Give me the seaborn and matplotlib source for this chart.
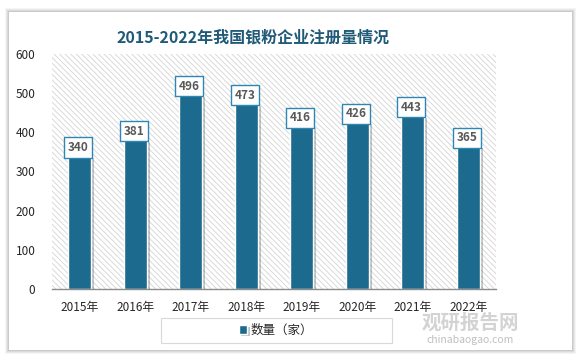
import matplotlib
matplotlib.use("Agg")
import matplotlib.pyplot as plt
import matplotlib.patheffects as pe
from matplotlib.patches import Rectangle
import seaborn as sns
import pandas as pd

years = ["2015年", "2016年", "2017年", "2018年", "2019年", "2020年", "2021年", "2022年"]
counts = [340, 381, 496, 473, 416, 426, 443, 365]
series_name = "数量（家）"
title = "2015-2022年我国银粉企业注册量情况"

BAR_COLOR = "#1C6B8E"
TITLE_COLOR = "#1F5A78"

sns.set_style("white")
plt.rcParams['font.family'] = ['Noto Sans CJK SC', 'DejaVu Sans']
plt.rcParams['hatch.color'] = '#D4D4D4'
plt.rcParams['hatch.linewidth'] = 0.6

df = pd.DataFrame({"year": years, "count": counts, "series": series_name})

W, H = 584, 362
fig = plt.figure(figsize=(W / 100, H / 100), dpi=100)
fig.patch.set_facecolor("white")

# card with soft shadow
for i, a in enumerate([0.04, 0.05, 0.06, 0.07]):
    d = 4 - i
    fig.patches.append(Rectangle(((9 - d) / W, (12 - d) / H), (563 + 2 * d) / W, (338 + 2 * d) / H,
                                 transform=fig.transFigure, facecolor="black", alpha=a,
                                 edgecolor="none", zorder=0))
fig.patches.append(Rectangle((9 / W, 12 / H), 563 / W, 338 / H, transform=fig.transFigure,
                             facecolor="white", edgecolor="none", zorder=1))
# legend frame (entry is centred inside it below)
fig.patches.append(Rectangle((161 / W, 1 - 343 / H), 231 / W, 25 / H, transform=fig.transFigure,
                             facecolor="white", edgecolor="#D9D9D9", linewidth=0.8, zorder=1.5))

ax = fig.add_axes([52 / W, 1 - 289 / H, 444 / W, 235 / H])
ax.set_zorder(2)
ax.patch.set_facecolor("white")
ax.patch.set_hatch("\\\\\\\\\\\\")
ax.patch.set_edgecolor("#D4D4D4")
ax.patch.set_linewidth(0)

sns.barplot(data=df, x="year", y="count", hue="series", palette=[BAR_COLOR], width=0.42,
            saturation=1, edgecolor="white", linewidth=1.0, ax=ax)

shadow = [pe.SimplePatchShadow(offset=(2, -1.5), alpha=0.25), pe.Normal()]
for bar in ax.patches:
    bar.set_path_effects(shadow)

for i, v in enumerate(counts):
    ax.annotate(str(v), (i, v), xytext=(-1, 6), textcoords="offset points", ha="center", va="center",
                fontsize=8.5, fontweight="bold", color="#595959",
                bbox=dict(boxstyle="square,pad=0.3", facecolor="white", edgecolor="#2E86B5", linewidth=1.0))

ax.set_ylim(0, 600)
ax.set_yticks(range(0, 601, 100))
ax.set_xlim(-0.5, len(years) - 0.5)
ax.set_xlabel("")
ax.set_ylabel("")
for s in ["top", "right", "left"]:
    ax.spines[s].set_visible(False)
ax.spines["bottom"].set_color("#8C8C8C")
ax.spines["bottom"].set_linewidth(1.0)
ax.tick_params(axis="y", length=0, pad=12, labelsize=8.5, labelcolor="#262626")
ax.tick_params(axis="x", length=0, pad=9, labelsize=8.5, labelcolor="#262626")

leg = ax.legend(loc="center", bbox_to_anchor=(276 / W, 1 - 330 / H), bbox_transform=fig.transFigure,
                frameon=False, fontsize=9, handlelength=0.7, handleheight=0.7, handletextpad=0.3)

fig.text(253 / W, 1 - 37 / H, title, ha="center", va="center", fontsize=11.5,
         fontweight="bold", color=TITLE_COLOR, zorder=3)

# watermark, kept just under the year labels
fig.text(470 / W, 1 - 323 / H, "观研报告网", ha="center", va="center", fontsize=14,
         fontweight="bold", color="#C8C8C8", alpha=0.8, zorder=5)
fig.text(470 / W, 1 - 340 / H, "chinabaogao.com", ha="center", va="center", fontsize=7.5,
         color="#B8B8B8", alpha=0.9, zorder=5)

fig.savefig("out.png", dpi=100, facecolor=fig.get_facecolor())
